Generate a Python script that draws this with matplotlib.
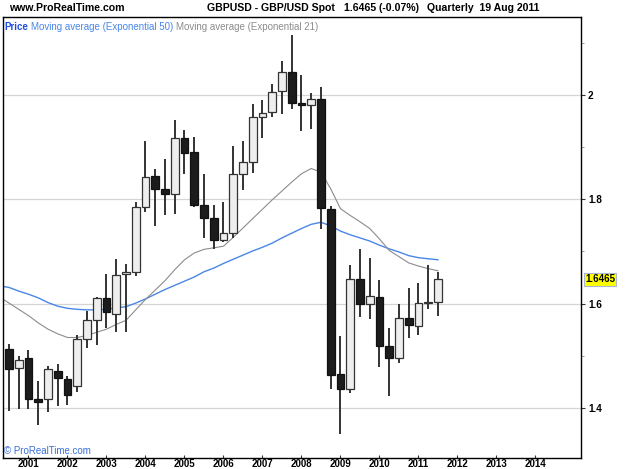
import matplotlib
matplotlib.use('Agg')
import matplotlib.pyplot as plt
import numpy as np

plt.rcParams['font.family'] = ['Liberation Sans', 'DejaVu Sans']

# quarterly candles, 2000 Q3 .. 2011 Q3
opens  = [1.513, 1.476, 1.495, 1.418, 1.417, 1.471, 1.455, 1.442, 1.532, 1.569,
          1.610, 1.581, 1.656, 1.660, 1.785, 1.845, 1.820, 1.810, 1.918, 1.890,
          1.789, 1.764, 1.722, 1.735, 1.848, 1.871, 1.958, 1.967, 2.007, 2.045,
          1.984, 1.981, 1.992, 1.781, 1.465, 1.436, 1.647, 1.599, 1.613, 1.519,
          1.495, 1.573, 1.558, 1.602, 1.603]
highs  = [1.522, 1.500, 1.511, 1.451, 1.480, 1.484, 1.461, 1.540, 1.586, 1.613,
          1.657, 1.685, 1.676, 1.794, 1.912, 1.859, 1.877, 1.953, 1.933, 1.920,
          1.849, 1.789, 1.794, 1.903, 1.912, 1.983, 1.990, 2.021, 2.065, 2.115,
          2.038, 2.003, 2.015, 1.787, 1.538, 1.674, 1.704, 1.687, 1.645, 1.553,
          1.599, 1.629, 1.640, 1.674, 1.661]
lows   = [1.395, 1.397, 1.398, 1.367, 1.392, 1.404, 1.406, 1.430, 1.514, 1.520,
          1.554, 1.545, 1.546, 1.652, 1.776, 1.748, 1.769, 1.772, 1.848, 1.786,
          1.725, 1.704, 1.718, 1.725, 1.817, 1.850, 1.917, 1.957, 1.963, 1.973,
          1.931, 1.934, 1.744, 1.436, 1.349, 1.428, 1.575, 1.570, 1.479, 1.423,
          1.486, 1.534, 1.540, 1.590, 1.577]
closes = [1.474, 1.492, 1.417, 1.411, 1.474, 1.457, 1.425, 1.533, 1.569, 1.610,
          1.583, 1.655, 1.661, 1.785, 1.843, 1.820, 1.810, 1.918, 1.888, 1.789,
          1.764, 1.722, 1.736, 1.848, 1.872, 1.957, 1.966, 2.006, 2.045, 1.984,
          1.981, 1.992, 1.783, 1.463, 1.436, 1.647, 1.599, 1.615, 1.519, 1.496,
          1.573, 1.559, 1.602, 1.604, 1.6465]

# moving averages, starting one quarter before the first candle (2000 Q2)
ema50 = [1.634, 1.631, 1.624, 1.618, 1.611, 1.602, 1.595, 1.591, 1.589, 1.588, 1.588,
         1.589, 1.592, 1.594, 1.601, 1.609, 1.618, 1.627, 1.635, 1.643, 1.651,
         1.661, 1.668, 1.677, 1.685, 1.693, 1.701, 1.708, 1.716, 1.726, 1.735,
         1.744, 1.752, 1.756, 1.749, 1.739, 1.732, 1.726, 1.720, 1.712, 1.705,
         1.699, 1.692, 1.688, 1.686, 1.684]
ema21 = [1.613, 1.601, 1.589, 1.577, 1.563, 1.551, 1.542, 1.535, 1.535, 1.539, 1.545,
         1.551, 1.560, 1.568, 1.588, 1.608, 1.626, 1.644, 1.665, 1.684, 1.697,
         1.704, 1.707, 1.710, 1.727, 1.745, 1.763, 1.781, 1.799, 1.816, 1.833,
         1.849, 1.859, 1.852, 1.820, 1.782, 1.769, 1.757, 1.744, 1.724, 1.702,
         1.690, 1.678, 1.672, 1.667, 1.663]

years = list(range(2001, 2015))
ytick_vals = [1.4, 1.6, 1.8, 2.0]
ytick_labels = ['1.4', '1.6', '1.8', '2']
last_price = 1.6465

W, H = 625, 469
fig = plt.figure(figsize=(W / 100, H / 100), dpi=100)
ax = fig.add_axes([3 / W, (H - 458) / H, 578 / W, 441 / H])

x = np.arange(len(opens))
o = np.array(opens); c = np.array(closes)
up = c >= o

ax.set_xlim(-0.615, 58.67)
ax.set_ylim(1.30393, 2.14957)

for v in ytick_vals:
    ax.axhline(v, color='#d4d4d4', lw=0.9, zorder=0)

xm = np.arange(len(ema50)) - 1
ax.plot(xm, ema50, color='#4a86e8', lw=1.0, zorder=1)
ax.plot(xm, ema21, color='#8c8c8c', lw=0.8, zorder=1)

ax.vlines(x, lows, highs, color='#333333', lw=1.4, zorder=2)
ax.bar(x[up], (c - o)[up], bottom=o[up], width=0.8, color='#eeeeee',
       edgecolor='#333333', lw=0.9, zorder=3)
ax.bar(x[~up], (o - c)[~up], bottom=c[~up], width=0.8, color='#1c1c1c',
       edgecolor='#111111', lw=0.9, zorder=3)

# axes styling
for s in ax.spines.values():
    s.set_color('black')
    s.set_linewidth(1.0)
ax.yaxis.tick_right()
ax.set_yticks(ytick_vals)
ax.set_yticklabels(ytick_labels, fontsize=7.2, fontweight='bold')
ax.set_yticks([1.5, 1.7, 1.9, 2.1], minor=True)
ax.tick_params(axis='y', which='major', length=3, pad=2, color='#333333')
ax.tick_params(axis='y', which='minor', length=2, color='#888888')
ax.set_xticks([2 + 4 * k for k in range(len(years))])
ax.set_xticklabels([str(yr) for yr in years], fontsize=7, fontweight='bold')
ax.tick_params(axis='x', length=2, direction='in', pad=0.5, color='#333333')

# last price tag
ax.text(1.0069, last_price, '1.6465', transform=ax.get_yaxis_transform(),
        fontsize=7, fontweight='bold', va='center', ha='left',
        bbox=dict(boxstyle='square,pad=0.12', fc='#ffff00', ec='#a8b8d0', lw=0.8))

# header
def ftext(px, py, s, **kw):
    fig.text(px / W, 1 - py / H, s, va='center', ha='left', **kw)

ftext(9, 8, 'www.ProRealTime.com', fontsize=7.6, fontweight='bold')
ftext(207, 8, 'GBPUSD - GBP/USD Spot', fontsize=7.6, fontweight='bold')
ftext(344, 8, '1.6465 (-0.07%)', fontsize=7.6, fontweight='bold')
ftext(427, 8, 'Quarterly  19 Aug 2011', fontsize=7.6, fontweight='bold')

ftext(4, 27, 'Price', fontsize=7, fontweight='bold', color='#1f4fe0')
ftext(31, 27, 'Moving average (Exponential 50)', fontsize=7, color='#4a86e8')
ftext(176, 27, 'Moving average (Exponential 21)', fontsize=7, color='#8c8c8c')

ftext(4, 451, '\u00a9 ProRealTime.com', fontsize=7, color='#3a6fd8')

fig.savefig('out.png', dpi=100)
